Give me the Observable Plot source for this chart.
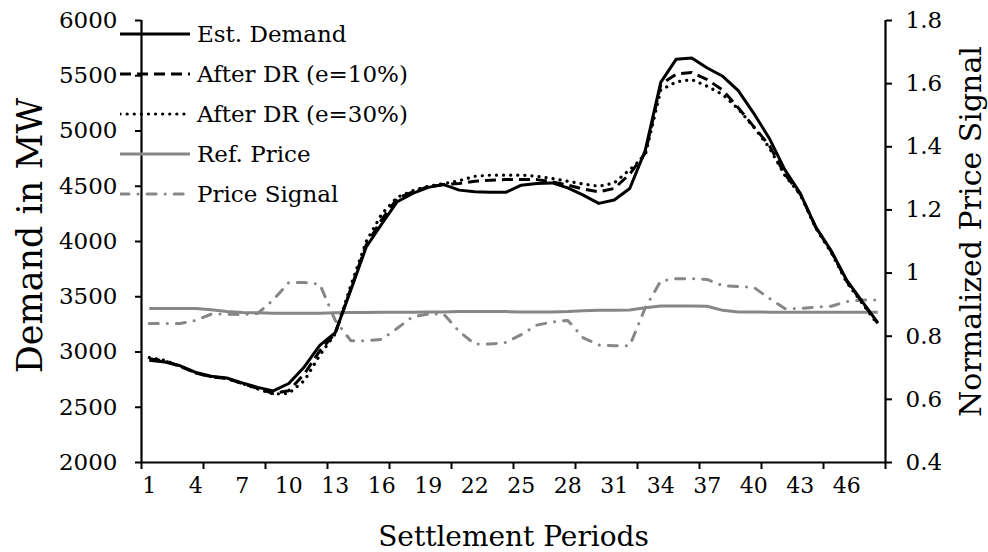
<!DOCTYPE html>
<html><head><meta charset="utf-8">
<script src="https://cdn.jsdelivr.net/npm/d3@7"></script>
<script src="https://cdn.jsdelivr.net/npm/@observablehq/plot@0.6"></script>
<style>
body{margin:0;background:#fff;}
#wrap{position:relative;width:988px;height:552px;font-family:"DejaVu Serif",serif;}
#legend{position:absolute;left:120px;top:14px;}
.row{display:flex;align-items:center;height:40px;}
.row span{font-size:23px;margin-left:7px;color:#000;white-space:nowrap;}
.row svg{display:block;}
</style></head><body><div id="wrap"><div id="chart"></div><div id="legend"></div></div>
<script>
const periods = [1,2,3,4,5,6,7,8,9,10,11,12,13,14,15,16,17,18,19,20,21,22,23,24,25,26,27,28,29,30,31,32,33,34,35,36,37,38,39,40,41,42,43,44,45,46,47,48];
const estDemand = [2925,2910,2875,2815,2780,2765,2720,2680,2648,2715,2865,3060,3175,3560,3950,4160,4360,4435,4490,4515,4465,4450,4445,4445,4510,4525,4530,4485,4420,4345,4375,4480,4825,5440,5650,5660,5570,5495,5365,5160,4935,4650,4435,4130,3915,3650,3455,3265];
const afterDR10 = [2940,2920,2870,2810,2775,2760,2715,2670,2625,2650,2800,3010,3170,3570,3970,4200,4390,4450,4495,4515,4525,4545,4555,4560,4560,4560,4540,4510,4475,4450,4480,4610,4800,5420,5515,5530,5465,5370,5210,5040,4870,4610,4430,4130,3910,3640,3450,3260];
const afterDR30 = [2950,2925,2870,2810,2775,2760,2715,2665,2620,2625,2740,2970,3165,3600,4000,4250,4400,4460,4500,4525,4550,4590,4600,4600,4600,4590,4570,4545,4520,4500,4530,4650,4780,5370,5445,5465,5405,5330,5200,5035,4850,4600,4425,4120,3900,3630,3440,3250];
const refPrice = [0.888,0.888,0.888,0.888,0.884,0.878,0.875,0.874,0.873,0.873,0.873,0.873,0.874,0.875,0.875,0.876,0.876,0.876,0.877,0.877,0.878,0.878,0.878,0.878,0.877,0.877,0.877,0.878,0.881,0.882,0.882,0.883,0.89,0.896,0.896,0.896,0.895,0.882,0.877,0.877,0.876,0.876,0.876,0.876,0.876,0.876,0.876,0.876];
const priceSignal = [0.84,0.84,0.84,0.85,0.87,0.87,0.868,0.872,0.915,0.97,0.97,0.965,0.85,0.786,0.786,0.79,0.825,0.862,0.87,0.87,0.815,0.775,0.775,0.78,0.805,0.835,0.845,0.85,0.795,0.772,0.77,0.77,0.89,0.975,0.982,0.982,0.98,0.96,0.957,0.955,0.92,0.888,0.888,0.892,0.895,0.91,0.915,0.915];

const demandTicks = [2000,2500,3000,3500,4000,4500,5000,5500,6000];
const priceTicks = [0.4,0.6,0.8,1,1.2,1.4,1.6,1.8];
const periodLabels = [1,4,7,10,13,16,19,22,25,28,31,34,37,40,43,46];
const periodTickBounds = [0.5,4.5,8.5,12.5,16.5,20.5,24.5,28.5,32.5,36.5,40.5,44.5,48.5];
const seriesNames = ["Est. Demand","After DR (e=10%)","After DR (e=30%)","Ref. Price","Price Signal"];

const demandDomain = [2000, 6000];
const priceDomain = [0.4, 1.8];
const priceToY = p => demandDomain[0] + (p - priceDomain[0]) / (priceDomain[1] - priceDomain[0]) * (demandDomain[1] - demandDomain[0]);
const yToPrice = v => priceDomain[0] + (v - demandDomain[0]) / (demandDomain[1] - demandDomain[0]) * (priceDomain[1] - priceDomain[0]);

const gray = "#878787";
const styles = [
  {stroke: "#000", strokeWidth: 3, strokeDasharray: null, strokeLinecap: "butt"},
  {stroke: "#000", strokeWidth: 3, strokeDasharray: "11 6", strokeLinecap: "butt"},
  {stroke: "#000", strokeWidth: 3.2, strokeDasharray: "0.1 7", strokeLinecap: "round"},
  {stroke: gray, strokeWidth: 3, strokeDasharray: null, strokeLinecap: "butt"},
  {stroke: gray, strokeWidth: 3, strokeDasharray: "9 9 0.1 9", strokeLinecap: "round"}
];
const seriesValues = [estDemand, afterDR10, afterDR30, refPrice.map(priceToY), priceSignal.map(priceToY)];

const table = periods.map((p, i) => ({period: p, i}));

const lineMarks = seriesValues.map((vals, k) => Plot.line(table, {
  x: "period", y: d => vals[d.i],
  stroke: styles[k].stroke, strokeWidth: styles[k].strokeWidth,
  strokeDasharray: styles[k].strokeDasharray || undefined,
  strokeLinecap: styles[k].strokeLinecap, strokeLinejoin: "round"
}));
const ordered = [lineMarks[4], lineMarks[3], lineMarks[2], lineMarks[1], lineMarks[0]];

const chart = Plot.plot({
  width: 988, height: 552,
  marginLeft: 141, marginRight: 103, marginTop: 20, marginBottom: 90,
  style: {fontFamily: "DejaVu Serif, serif", color: "#000", background: "#fff"},
  x: {type: "linear", domain: [0.5, 48.5], axis: null},
  y: {domain: demandDomain, axis: null},
  marks: [
    ...ordered,
    Plot.ruleY([demandDomain[0]], {stroke: "#000", strokeWidth: 2.2}),
    Plot.ruleX([0.5, 48.5], {stroke: "#000", strokeWidth: 2.2}),
    Plot.axisY({ticks: demandTicks, tickSize: 6, tickPadding: 18, fontSize: 23, strokeWidth: 2, tickFormat: d => String(d), label: null}),
    Plot.axisY({anchor: "right", ticks: priceTicks.map(priceToY), tickSize: 6, tickPadding: 14, fontSize: 23, strokeWidth: 2, tickFormat: v => String(+yToPrice(v).toFixed(1)), label: null}),
    Plot.axisX({ticks: periodTickBounds, tickSize: 7, strokeWidth: 2, tickFormat: () => "", label: null}),
    Plot.axisX({ticks: periodLabels, tickSize: 0, tickPadding: 15, fontSize: 22, tickFormat: d => String(d), label: null}),
    Plot.text(["Demand in MW"], {text: d => d, frameAnchor: "left", dx: -111, dy: -6, rotate: -90, fontSize: 35, textAnchor: "middle", lineAnchor: "middle", fill: "#000"}),
    Plot.text(["Normalized Price Signal"], {text: d => d, frameAnchor: "right", dx: 86, dy: -10, rotate: -90, fontSize: 30, textAnchor: "middle", lineAnchor: "middle", fill: "#000"}),
    Plot.text(["Settlement Periods"], {text: d => d, frameAnchor: "bottom", dy: 75, fontSize: 28, textAnchor: "middle", lineAnchor: "middle", fill: "#000"})
  ]
});
document.getElementById("chart").appendChild(chart);

const legend = document.getElementById("legend");
seriesNames.forEach((name, k) => {
  const s = styles[k];
  const row = document.createElement("div");
  row.className = "row";
  row.innerHTML = `<svg width="70" height="40"><line x1="0" x2="70" y1="20" y2="20" stroke="${s.stroke}" stroke-width="${s.strokeWidth}" ${s.strokeDasharray ? `stroke-dasharray="${s.strokeDasharray}"` : ""} stroke-linecap="${s.strokeLinecap}"/></svg><span>${name}</span>`;
  legend.appendChild(row);
});
</script></body></html>
